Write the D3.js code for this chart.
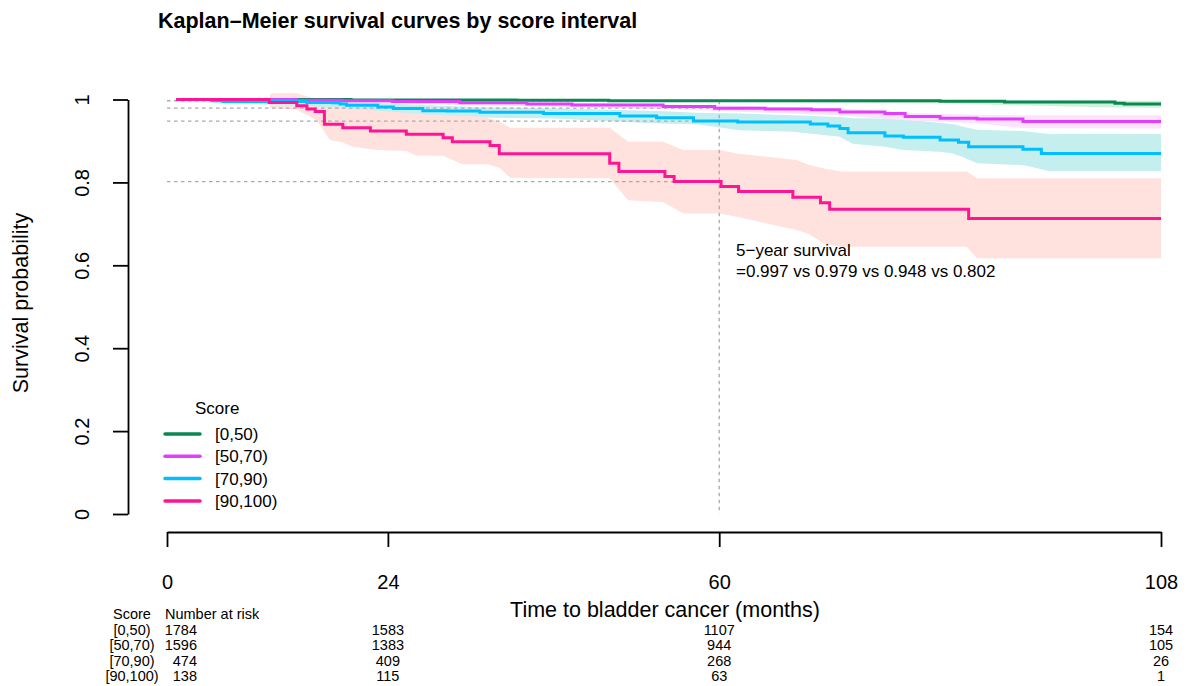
<!DOCTYPE html>
<html><head><meta charset="utf-8">
<script src="https://cdn.jsdelivr.net/npm/d3@7"></script>
<style>body{margin:0;background:#fff;} text{font-family:"Liberation Sans",Arial,sans-serif;}</style>
</head><body>
<svg id="chart" width="1188" height="686"></svg>
<script>
// ---------- data ----------
const groups = ["[0,50)", "[50,70)", "[70,90)", "[90,100)"];
const colors = ["#0a8752", "#E040FB", "#00BFFF", "#FF1493"];
const bandColors = ["#CDF2D8", "#FCE2FC", "#C5EEEE", "#FFE1DE"];
const timeTicks = [0, 24, 60, 108];
const survTicks = [0, 0.2, 0.4, 0.6, 0.8, 1];
const survTickLabels = ["0", "0.2", "0.4", "0.6", "0.8", "1"];

// step curves (time in months, survival)
const t0 = [1, 20, 38, 48, 84, 91, 103, 104];
const s0 = [1, 0.999, 0.998, 0.997, 0.996, 0.994, 0.991, 0.989];
const t1 = [1, 14, 19, 24.5, 31.8, 39.1, 44, 53.9, 59.5, 65, 70, 73.1, 78, 80.2, 84, 88, 93];
const s1 = [1, 0.998, 0.997, 0.995, 0.992, 0.989, 0.987, 0.983, 0.979, 0.977, 0.975, 0.970, 0.966, 0.959, 0.955, 0.953, 0.947];
const t2 = [1, 4.9, 6.1, 15.2, 18.0, 18.8, 19.5, 22.9, 24.6, 27.8, 30.4, 34.0, 40.9, 49.2, 53.2, 57.2, 62.0, 69.9, 71.8, 73.1, 74.0, 78.0, 80.0, 84.0, 86.0, 87.1, 93.0, 95.0];
const s2 = [1, 0.997, 0.995, 0.993, 0.992, 0.989, 0.986, 0.982, 0.978, 0.973, 0.972, 0.969, 0.966, 0.960, 0.956, 0.948, 0.946, 0.941, 0.936, 0.930, 0.920, 0.912, 0.909, 0.902, 0.897, 0.886, 0.880, 0.870];
const t3 = [1, 11.1, 14.1, 15.2, 16.1, 17.1, 19.1, 22.1, 26.0, 30.0, 31.0, 35.1, 36.1, 48.1, 49.1, 54.1, 55.1, 60.2, 62.1, 68.0, 71.0, 72.0, 87.1];
const s3 = [1, 0.993, 0.985, 0.977, 0.971, 0.940, 0.932, 0.924, 0.916, 0.908, 0.898, 0.889, 0.869, 0.846, 0.826, 0.814, 0.802, 0.790, 0.778, 0.764, 0.751, 0.735, 0.713];
const endTime = 108;

// confidence bands (time, lower, upper)
const bt0 = [30, 60, 84, 91, 103, 108];
const bl0 = [0.997, 0.994, 0.991, 0.987, 0.981, 0.980];
const bh0 = [1.000, 0.999, 0.999, 0.998, 0.997, 0.997];
const bt1 = [14, 30, 45, 60, 73, 80, 88, 93, 108];
const bl1 = [0.996, 0.988, 0.982, 0.972, 0.962, 0.950, 0.943, 0.931, 0.930];
const bh1 = [1.000, 0.996, 0.992, 0.986, 0.978, 0.968, 0.963, 0.962, 0.962];
const bt2 = [4.9, 15.0, 19.0, 23.0, 28.2, 33.6, 35.4, 42.0, 53.5, 57.6, 62.2, 68.0, 73.1, 74.5, 78.0, 80.0, 83.9, 85.4, 86.4, 88.0, 92.7, 93.4, 95.9, 108];
const bl2 = [0.993, 0.985, 0.979, 0.973, 0.964, 0.959, 0.956, 0.954, 0.942, 0.940, 0.926, 0.922, 0.910, 0.893, 0.886, 0.878, 0.874, 0.870, 0.862, 0.846, 0.842, 0.840, 0.827, 0.827];
const bh2 = [1.000, 0.999, 0.995, 0.992, 0.986, 0.982, 0.981, 0.979, 0.972, 0.968, 0.966, 0.962, 0.958, 0.955, 0.954, 0.952, 0.944, 0.940, 0.935, 0.927, 0.924, 0.923, 0.917, 0.917];
const bt3 = [11.2, 11.7, 14.1, 15.9, 16.3, 17.7, 19.0, 20.2, 22.8, 26.0, 27.1, 30.0, 32.1, 34.9, 36.2, 37.3, 48.1, 50.1, 53.9, 56.1, 60.1, 61.9, 68.4, 69.8, 71.3, 73.1, 86.9, 88.0, 108];
const bl3 = [0.980, 0.979, 0.975, 0.955, 0.948, 0.902, 0.897, 0.886, 0.878, 0.876, 0.864, 0.864, 0.844, 0.844, 0.834, 0.811, 0.810, 0.757, 0.753, 0.725, 0.725, 0.717, 0.685, 0.675, 0.653, 0.645, 0.645, 0.617, 0.617];
const bh3 = [1.013, 1.015, 1.015, 1.003, 1.002, 1.000, 0.999, 0.996, 0.990, 0.981, 0.979, 0.971, 0.966, 0.956, 0.945, 0.932, 0.932, 0.898, 0.898, 0.878, 0.878, 0.870, 0.854, 0.842, 0.834, 0.826, 0.826, 0.810, 0.810];

const fiveYear = [0.997, 0.979, 0.948, 0.802];
const fiveYearTime = 60;

// number at risk
const riskTimes = [0, 24, 60, 108];
const risk0 = [1784, 1583, 1107, 154];
const risk1 = [1596, 1383, 944, 105];
const risk2 = [474, 409, 268, 26];
const risk3 = [138, 115, 63, 1];

// ---------- drawing ----------
const steps = [[t0, s0], [t1, s1], [t2, s2], [t3, s3]];
const bands = [[bt0, bl0, bh0], [bt1, bl1, bh1], [bt2, bl2, bh2], [bt3, bl3, bh3]];
const risks = [risk0, risk1, risk2, risk3];

const svg = d3.select("#chart");
const x = d3.scaleLinear().domain([0, 108]).range([167, 1161]);
const y = d3.scaleLinear().domain([0, 1]).range([514, 99.5]);

// title
svg.append("text").attr("x", 158).attr("y", 28).attr("font-size", 21.5)
  .attr("font-weight", "bold").text("Kaplan\u2013Meier survival curves by score interval");

// bands (draw pink first, then cyan, magenta, green)
const area = d3.area().x(d => x(d[0])).y0(d => y(d[1])).y1(d => y(d[2]));
[3, 2, 1, 0].forEach(i => {
  const [bt, bl, bh] = bands[i];
  const pts = bt.map((t, k) => [t, bl[k], bh[k]]);
  svg.append("path").attr("d", area(pts)).attr("fill", bandColors[i]).attr("stroke", "none");
});

// reference dashed lines
const dash = "3.5,3.5";
fiveYear.forEach(v => {
  svg.append("line").attr("x1", x(0)).attr("x2", x(fiveYearTime))
    .attr("y1", y(v)).attr("y2", y(v))
    .attr("stroke", "#aaaaaa").attr("stroke-width", 1.3).attr("stroke-dasharray", dash);
});
svg.append("line").attr("x1", x(fiveYearTime)).attr("x2", x(fiveYearTime))
  .attr("y1", y(d3.max(fiveYear))).attr("y2", y(0))
  .attr("stroke", "#aaaaaa").attr("stroke-width", 1.3).attr("stroke-dasharray", dash);

// step curves
const line = d3.line().x(d => x(d[0])).y(d => y(d[1])).curve(d3.curveStepAfter);
steps.forEach(([ts, ss], i) => {
  const pts = ts.map((t, k) => [t, ss[k]]);
  pts.push([endTime, ss[ss.length - 1]]);
  svg.append("path").attr("d", line(pts)).attr("fill", "none")
    .attr("stroke", colors[i]).attr("stroke-width", 3);
});

// y axis
const yAxis = d3.axisLeft(y).tickValues(survTicks).tickSize(15).tickSizeOuter(0)
  .tickFormat((d, i) => survTickLabels[i]);
const gy = svg.append("g").attr("transform", "translate(128,0)").call(yAxis);
gy.select(".domain").attr("stroke-width", 1.8);
gy.selectAll(".tick line").attr("stroke-width", 1.8);
gy.selectAll(".tick text").attr("transform", "rotate(-90)").attr("x", 0).attr("y", -39)
  .attr("dy", 0).attr("text-anchor", "middle").attr("font-size", 20).attr("fill", "#000")
  .attr("font-family", "Liberation Sans, Arial, sans-serif");

svg.append("text").attr("transform", "translate(28,303) rotate(-90)")
  .attr("text-anchor", "middle").attr("font-size", 21.5).text("Survival probability");

// x axis
const xAxis = d3.axisBottom(x).tickValues(timeTicks).tickSize(15).tickSizeOuter(0)
  .tickFormat(d3.format("d"));
const gx = svg.append("g").attr("transform", "translate(0,532)").call(xAxis);
gx.select(".domain").attr("stroke-width", 1.8);
gx.selectAll(".tick line").attr("stroke-width", 1.8);
gx.selectAll(".tick text").attr("y", 57).attr("dy", 0).attr("font-size", 20).attr("fill", "#000")
  .attr("font-family", "Liberation Sans, Arial, sans-serif");

svg.append("text").attr("x", 665).attr("y", 617).attr("text-anchor", "middle")
  .attr("font-size", 21.5).text("Time to bladder cancer (months)");

// annotation
svg.append("text").attr("x", 736).attr("y", 256).attr("font-size", 17).text("5\u2212year survival");
svg.append("text").attr("x", 736).attr("y", 277).attr("font-size", 17)
  .text("=" + fiveYear.map(v => v.toFixed(3)).join(" vs "));

// legend
svg.append("text").attr("x", 195).attr("y", 414).attr("font-size", 17).text("Score");
groups.forEach((g, i) => {
  const ly = 434 + i * 22.3;
  svg.append("line").attr("x1", 165).attr("x2", 200).attr("y1", ly).attr("y2", ly)
    .attr("stroke", colors[i]).attr("stroke-width", 3.5).attr("stroke-linecap", "round");
  svg.append("text").attr("x", 215).attr("y", ly + 6).attr("font-size", 17).text(g);
});

// number at risk table
const rfs = 14.5;
svg.append("text").attr("x", 132).attr("y", 619).attr("text-anchor", "middle").attr("font-size", rfs).text("Score");
svg.append("text").attr("x", 165).attr("y", 619).attr("font-size", rfs).text("Number at risk");
risks.forEach((row, i) => {
  const ry = 634.5 + i * 15.5;
  svg.append("text").attr("x", 132).attr("y", ry).attr("text-anchor", "middle").attr("font-size", rfs).text(groups[i]);
  row.forEach((n, j) => {
    const first = j === 0;
    svg.append("text").attr("x", first ? x(riskTimes[j]) + 30 : x(riskTimes[j]))
      .attr("y", ry).attr("text-anchor", first ? "end" : "middle")
      .attr("font-size", rfs).text(n);
  });
});
</script>
</body></html>
